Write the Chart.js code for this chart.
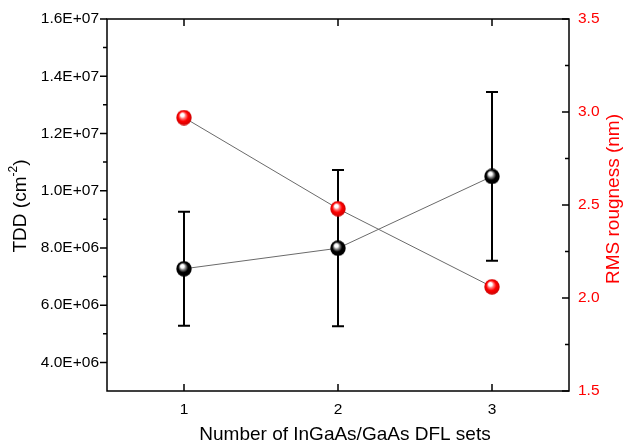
<!DOCTYPE html>
<html>
<head>
<meta charset="utf-8">
<script src="https://cdn.jsdelivr.net/npm/chart.js@4.4.1/dist/chart.umd.min.js"></script>
<style>
  html, body { margin: 0; padding: 0; background: #fff; }
  #wrap { width: 625px; height: 444px; position: relative; }
</style>
</head>
<body>
<div id="wrap"><canvas id="tddChart"></canvas></div>
<script>
// data
const dflSets = [1, 2, 3];
const tdd = [7.27e6, 7.99e6, 10.5e6];
const tddErr = [1.99e6, 2.73e6, 2.95e6];
const rms = [2.97, 2.48, 2.06];

const tddTickVals = [4e6, 6e6, 8e6, 10e6, 12e6, 14e6, 16e6];
const tddTickLabels = ['4.0E+06', '6.0E+06', '8.0E+06', '1.0E+07', '1.2E+07', '1.4E+07', '1.6E+07'];
const tddMinorVals = [5e6, 7e6, 9e6, 11e6, 13e6, 15e6];
const rmsTickVals = [1.5, 2.0, 2.5, 3.0, 3.5];
const rmsTickLabels = ['1.5', '2.0', '2.5', '3.0', '3.5'];
const rmsMinorVals = [1.75, 2.25, 2.75, 3.25];

const FONT = '"Liberation Sans", Arial, Helvetica, sans-serif';
const RED = '#ff0000';
const TITLE_SIZE = 19;

function makeBall(base, mid, edge, size = 16) {
  const c = document.createElement('canvas');
  c.width = size; c.height = size;
  const g = c.getContext('2d');
  const r = size / 2;
  const grad = g.createRadialGradient(r * 0.75, r * 0.6, 0.4, r, r, r);
  grad.addColorStop(0, '#ffffff');
  grad.addColorStop(0.18, '#ffffff');
  grad.addColorStop(0.35, mid);
  grad.addColorStop(0.6, base);
  grad.addColorStop(1, edge);
  g.fillStyle = grad;
  g.beginPath();
  g.arc(r, r, r - 0.3, 0, Math.PI * 2);
  g.fill();
  return c;
}

const blackBall = makeBall('#000000', '#8a8a8a', '#000000');
const redBall = makeBall('#ff0000', '#ff7a7a', '#c80000');

const errorBars = {
  id: 'errorBars',
  beforeDatasetsDraw(chart) {
    const { ctx, scales: { x, y } } = chart;
    ctx.save();
    ctx.strokeStyle = '#000';
    ctx.lineWidth = 2;
    dflSets.forEach((v, i) => {
      const px = x.getPixelForValue(v);
      const top = y.getPixelForValue(tdd[i] + tddErr[i]);
      const bot = y.getPixelForValue(tdd[i] - tddErr[i]);
      ctx.beginPath();
      ctx.moveTo(px, top); ctx.lineTo(px, bot);
      ctx.moveTo(px - 6, top); ctx.lineTo(px + 6, top);
      ctx.moveTo(px - 6, bot); ctx.lineTo(px + 6, bot);
      ctx.stroke();
    });
    ctx.restore();
  }
};

const frame = {
  id: 'frame',
  afterDatasetsDraw(chart) {
    const { ctx, chartArea: a, scales: { x, y, y2 } } = chart;
    ctx.save();
    ctx.strokeStyle = '#000';
    ctx.lineWidth = 1.5;
    ctx.strokeRect(a.left, a.top, a.right - a.left, a.bottom - a.top);
    ctx.beginPath();
    // left axis: ticks outward
    tddTickVals.forEach(v => { const p = y.getPixelForValue(v); ctx.moveTo(a.left - 7, p); ctx.lineTo(a.left, p); });
    tddMinorVals.forEach(v => { const p = y.getPixelForValue(v); ctx.moveTo(a.left - 4, p); ctx.lineTo(a.left, p); });
    // right axis: ticks inward
    rmsTickVals.forEach(v => { const p = y2.getPixelForValue(v); ctx.moveTo(a.right - 7, p); ctx.lineTo(a.right, p); });
    rmsMinorVals.forEach(v => { const p = y2.getPixelForValue(v); ctx.moveTo(a.right - 4, p); ctx.lineTo(a.right, p); });
    // top and bottom: inward
    dflSets.forEach(v => {
      const p = x.getPixelForValue(v);
      ctx.moveTo(p, a.bottom - 7); ctx.lineTo(p, a.bottom);
      ctx.moveTo(p, a.top + 7); ctx.lineTo(p, a.top);
    });
    ctx.stroke();

    // axis titles
    const tf = TITLE_SIZE + 'px ' + FONT;
    const sf = '12px ' + FONT;
    ctx.fillStyle = '#000';
    ctx.textBaseline = 'middle';
    ctx.textAlign = 'center';
    ctx.font = tf;
    ctx.fillText('Number of InGaAs/GaAs DFL sets', 345, a.bottom + 44);

    ctx.save();
    ctx.translate(21, 206);
    ctx.rotate(-Math.PI / 2);
    ctx.textAlign = 'left';
    const p1 = 'TDD (cm', sup = '-2', p3 = ')';
    ctx.font = tf;
    const w1 = ctx.measureText(p1).width, w3 = ctx.measureText(p3).width;
    ctx.font = sf;
    const w2 = ctx.measureText(sup).width;
    let sx = -(w1 + w2 + w3) / 2;
    ctx.font = tf;
    ctx.fillText(p1, sx, 0); sx += w1;
    ctx.font = sf;
    ctx.fillText(sup, sx, -7); sx += w2;
    ctx.font = tf;
    ctx.fillText(p3, sx, 0);
    ctx.restore();

    ctx.save();
    ctx.translate(614, 199);
    ctx.rotate(-Math.PI / 2);
    ctx.fillStyle = RED;
    ctx.font = tf;
    ctx.fillText('RMS rougness (nm)', 0, 0);
    ctx.restore();
    ctx.restore();
  }
};

const ctx = document.getElementById('tddChart').getContext('2d');

new Chart(ctx, {
  type: 'line',
  data: {
    datasets: [
      {
        label: 'RMS',
        data: dflSets.map((v, i) => ({ x: v, y: rms[i] })),
        yAxisID: 'y2',
        borderColor: '#6a6a6a',
        borderWidth: 1,
        pointStyle: redBall,
        tension: 0
      },
      {
        label: 'TDD',
        data: dflSets.map((v, i) => ({ x: v, y: tdd[i] })),
        yAxisID: 'y',
        borderColor: '#6a6a6a',
        borderWidth: 1,
        pointStyle: blackBall,
        tension: 0
      }
    ]
  },
  options: {
    responsive: true,
    maintainAspectRatio: false,
    animation: false,
    layout: { padding: { top: 19, left: 0, right: 0, bottom: 0 } },
    plugins: { legend: { display: false }, tooltip: { enabled: false } },
    scales: {
      x: {
        type: 'linear',
        min: 0.5, max: 3.5,
        afterBuildTicks: s => { s.ticks = dflSets.map(v => ({ value: v })); },
        afterFit: s => { s.height = 53; },
        grid: { display: false, drawTicks: false },
        border: { display: false },
        ticks: { color: '#000', font: { family: FONT, size: 15.5 }, padding: 9, callback: v => String(v) }
      },
      y: {
        position: 'left',
        min: 3e6, max: 1.6e7,
        afterBuildTicks: s => { s.ticks = tddTickVals.map(v => ({ value: v })); },
        afterFit: s => { s.width = 107; },
        grid: { display: false, drawTicks: false },
        border: { display: false },
        ticks: {
          color: '#000', font: { family: FONT, size: 15.5 }, padding: 8,
          callback: v => tddTickLabels[tddTickVals.indexOf(v)]
        }
      },
      y2: {
        position: 'right',
        min: 1.5, max: 3.5,
        afterBuildTicks: s => { s.ticks = rmsTickVals.map(v => ({ value: v })); },
        afterFit: s => { s.width = 56; },
        grid: { display: false, drawTicks: false },
        border: { display: false },
        ticks: {
          color: RED, font: { family: FONT, size: 15.5 }, padding: 9,
          callback: v => rmsTickLabels[rmsTickVals.indexOf(v)]
        }
      }
    }
  },
  plugins: [errorBars, frame]
});
</script>
</body>
</html>
